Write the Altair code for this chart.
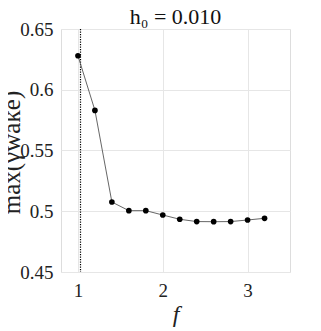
import altair as alt
import pandas as pd

f_vals = [1.0, 1.2, 1.4, 1.6, 1.8, 2.0, 2.2, 2.4, 2.6, 2.8, 3.0, 3.2]
gamma_max = [0.628, 0.583, 0.5076, 0.5005, 0.5005, 0.4969, 0.4934, 0.4915, 0.4914, 0.4915, 0.4928, 0.4942]
vline_f = [1.03]
x_ticks = [1, 2, 3]
y_ticks = [0.45, 0.5, 0.55, 0.6, 0.65]

df = pd.DataFrame({"f": f_vals, "g": gamma_max})
dv = pd.DataFrame({"f": vline_f})

FONT = "Liberation Serif, Times New Roman, DejaVu Serif, serif"

xs = alt.Scale(domain=[0.8, 3.5], nice=False, zero=False)
ys = alt.Scale(domain=[0.45, 0.65], nice=False, zero=False)

label_expr = "replace(format(datum.value, '.2f'), /0$/, '')"

xax = alt.Axis(values=x_ticks, format="d", title="f", titleFontStyle="italic", titleFont=FONT,
               titleFontSize=24, titleFontWeight="normal", titleColor="#222",
               labelFont=FONT, labelFontSize=19, labelColor="#222", labelPadding=9,
               ticks=False, domain=False, grid=True, gridColor="#e6e6e6",
               titlePadding=2)
yax = alt.Axis(values=y_ticks, title="max(γwake)", titleFont=FONT, titleFontSize=25,
               titleFontWeight="normal", titleColor="#222", titleX=-42, titleY=123,
               titleBaseline="alphabetic", titleAlign="center", titleAngle=270,
               labelFont=FONT, labelFontSize=19, labelColor="#222", labelPadding=8,
               labelExpr=label_expr,
               ticks=False, domain=False, grid=True, gridColor="#e6e6e6")

line = alt.Chart(df).mark_line(color="#555", strokeWidth=0.9).encode(
    x=alt.X("f:Q", scale=xs, axis=xax),
    y=alt.Y("g:Q", scale=ys, axis=yax),
)
pts = alt.Chart(df).mark_circle(color="black", size=32, opacity=1).encode(
    x=alt.X("f:Q", scale=xs),
    y=alt.Y("g:Q", scale=ys),
)
vl = alt.Chart(dv).mark_rule(color="black", strokeDash=[1.2, 1.3], strokeWidth=1.2).encode(
    x=alt.X("f:Q", scale=xs),
)

chart = alt.layer(vl, line, pts).properties(
    width=229, height=243,
    title=alt.TitleParams("h₀ = 0.010", font=FONT, fontSize=22, fontWeight="normal",
                          color="#111", anchor="middle", offset=-9),
    autosize=alt.AutoSizeParams(type="none"),
    padding={"left": 53, "top": 21, "right": 23, "bottom": 59},
).configure_view(stroke="#262626", strokeWidth=1).configure(background="white")

chart.save("out.html", embed_options={"renderer": "svg", "actions": False})
